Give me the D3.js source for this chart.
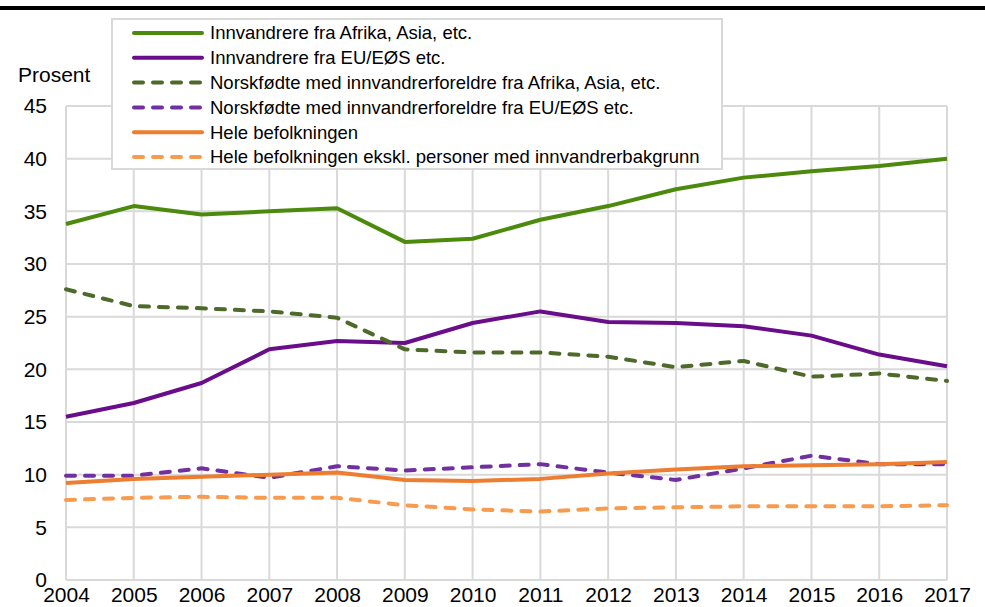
<!DOCTYPE html>
<html>
<head>
<meta charset="utf-8">
<script src="https://cdn.jsdelivr.net/npm/d3@7"></script>
<style>
  body { margin: 0; background: #fff; }
  text { font-family: "Liberation Sans", Arial, sans-serif; fill: #000; }
</style>
</head>
<body>
<div class="chart"></div>
<script>
var years = [2004, 2005, 2006, 2007, 2008, 2009, 2010, 2011, 2012, 2013, 2014, 2015, 2016, 2017];
var yTicks = [0, 5, 10, 15, 20, 25, 30, 35, 40, 45];

var afrikaAsia = [33.8, 35.5, 34.7, 35.0, 35.3, 32.1, 32.4, 34.2, 35.5, 37.1, 38.2, 38.8, 39.3, 40.0];
var euEos = [15.5, 16.8, 18.7, 21.9, 22.7, 22.5, 24.4, 25.5, 24.5, 24.4, 24.1, 23.2, 21.4, 20.3];
var norskAfrikaAsia = [27.6, 26.0, 25.8, 25.5, 24.9, 21.9, 21.6, 21.6, 21.2, 20.2, 20.8, 19.3, 19.6, 18.9];
var norskEuEos = [9.9, 9.9, 10.6, 9.7, 10.8, 10.4, 10.7, 11.0, 10.2, 9.5, 10.6, 11.8, 11.0, 11.0];
var heleBefolkningen = [9.2, 9.6, 9.8, 10.0, 10.2, 9.5, 9.4, 9.6, 10.1, 10.5, 10.8, 10.9, 11.0, 11.2];
var heleEkskl = [7.6, 7.8, 7.9, 7.8, 7.8, 7.1, 6.7, 6.5, 6.8, 6.9, 7.0, 7.0, 7.0, 7.1];

var seriesNames = [
  "Innvandrere fra Afrika, Asia, etc.",
  "Innvandrere fra EU/EØS etc.",
  "Norskfødte med innvandrerforeldre fra Afrika, Asia, etc.",
  "Norskfødte med innvandrerforeldre fra EU/EØS etc.",
  "Hele befolkningen",
  "Hele befolkningen ekskl. personer med innvandrerbakgrunn"
];

var series = [
  { name: seriesNames[0], values: afrikaAsia, color: "#4b8a0c", dashed: false },
  { name: seriesNames[1], values: euEos, color: "#6a0d8a", dashed: false },
  { name: seriesNames[2], values: norskAfrikaAsia, color: "#4e6a2a", dashed: true },
  { name: seriesNames[3], values: norskEuEos, color: "#7030a0", dashed: true },
  { name: seriesNames[4], values: heleBefolkningen, color: "#ed7d31", dashed: false },
  { name: seriesNames[5], values: heleEkskl, color: "#f79b4e", dashed: true }
];

var svgWidth = 985;
var svgHeight = 607;

var margin = { top: 106, right: 38, bottom: 27, left: 66 };
var width = svgWidth - margin.left - margin.right;
var height = svgHeight - margin.top - margin.bottom;

var svg = d3.select(".chart")
  .append("svg")
  .attr("width", svgWidth)
  .attr("height", svgHeight);

// top rule
svg.append("rect")
  .attr("x", 0)
  .attr("y", 6)
  .attr("width", svgWidth)
  .attr("height", 4)
  .attr("fill", "#000");

var chartGroup = svg.append("g")
  .attr("transform", `translate(${margin.left}, ${margin.top})`);

var xScale = d3.scaleLinear()
  .domain([d3.min(years), d3.max(years)])
  .range([0, width]);

var yScale = d3.scaleLinear()
  .domain([0, 45])
  .range([height, 0]);

// gridlines
chartGroup.append("g")
  .selectAll("line")
  .data(yTicks)
  .enter()
  .append("line")
  .attr("x1", 0)
  .attr("x2", width)
  .attr("y1", d => yScale(d))
  .attr("y2", d => yScale(d))
  .attr("stroke", "#d9d9d9")
  .attr("stroke-width", 2);

chartGroup.append("g")
  .selectAll("line")
  .data(years)
  .enter()
  .append("line")
  .attr("x1", d => xScale(d))
  .attr("x2", d => xScale(d))
  .attr("y1", 0)
  .attr("y2", height)
  .attr("stroke", "#d9d9d9")
  .attr("stroke-width", 2);

// y axis labels
var leftAxis = d3.axisLeft(yScale).tickValues(yTicks).tickSize(0).tickPadding(19);
var yAxis = chartGroup.append("g").call(leftAxis);
yAxis.select(".domain").remove();
yAxis.selectAll("text")
  .attr("font-size", "21px")
  .attr("font-family", "Liberation Sans, Arial, sans-serif");

// x axis labels
var bottomAxis = d3.axisBottom(xScale).tickValues(years).tickFormat(d3.format("d")).tickSize(0).tickPadding(7);
var xAxis = chartGroup.append("g")
  .attr("transform", `translate(0, ${height})`)
  .call(bottomAxis);
xAxis.select(".domain").remove();
xAxis.selectAll("text")
  .attr("font-size", "21px")
  .attr("font-family", "Liberation Sans, Arial, sans-serif");

// y axis title
svg.append("text")
  .attr("x", 18)
  .attr("y", 82)
  .attr("font-size", "21px")
  .text("Prosent");

// lines
var line = d3.line()
  .x((d, i) => xScale(years[i]))
  .y(d => yScale(d));

chartGroup.selectAll(".series")
  .data(series)
  .enter()
  .append("path")
  .attr("class", "series")
  .attr("d", d => line(d.values))
  .attr("fill", "none")
  .attr("stroke", d => d.color)
  .attr("stroke-width", 4)
  .attr("stroke-linecap", d => d.dashed ? "round" : "butt")
  .attr("stroke-linejoin", "round")
  .attr("stroke-dasharray", d => d.dashed ? "9 10" : null);

// legend
var legend = svg.append("g");

legend.append("rect")
  .attr("x", 112)
  .attr("y", 19)
  .attr("width", 610)
  .attr("height", 150)
  .attr("fill", "#fff")
  .attr("stroke", "#d9d9d9")
  .attr("stroke-width", 2);

var legendItems = legend.selectAll(".legend-item")
  .data(series)
  .enter()
  .append("g")
  .attr("class", "legend-item")
  .attr("transform", (d, i) => `translate(0, ${33 + i * 24.8})`);

legendItems.append("line")
  .attr("x1", 134)
  .attr("x2", 202)
  .attr("y1", 0)
  .attr("y2", 0)
  .attr("stroke", d => d.color)
  .attr("stroke-width", 4)
  .attr("stroke-linecap", "round")
  .attr("stroke-dasharray", d => d.dashed ? "9 10" : null);

legendItems.append("text")
  .attr("x", 210)
  .attr("y", 0)
  .attr("dy", "0.35em")
  .attr("font-size", "18.5px")
  .text(d => d.name);
</script>
</body>
</html>
